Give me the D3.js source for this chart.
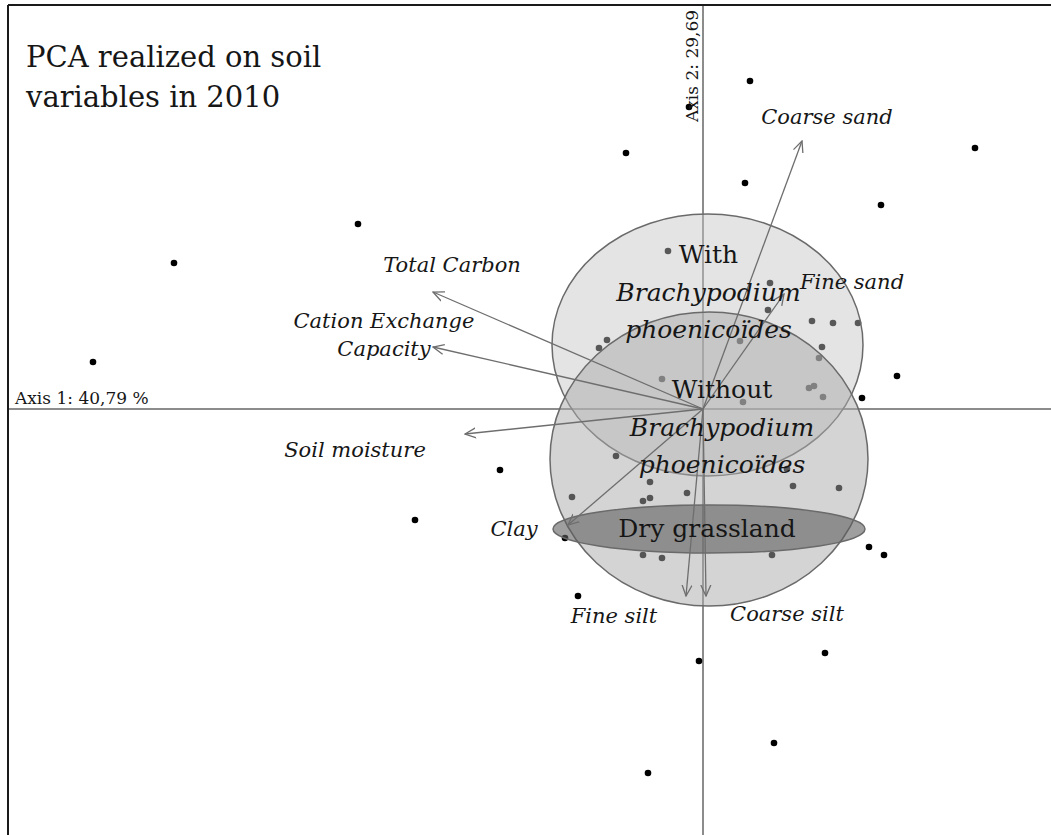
<!DOCTYPE html>
<html>
<head>
<meta charset="utf-8">
<script src="https://cdn.jsdelivr.net/npm/d3@7"></script>
<style>
  body { margin: 0; background: #fff; }
  svg text { font-family: "DejaVu Serif", serif; fill: #161616; }
</style>
</head>
<body>
<div id="chart"></div>
<script>
// Site scores on axis 1 / axis 2
var sitePoints = [
  [0.47, 3.28], [-0.77, 2.56], [0.42, 2.26], [2.72, 2.61], [1.78, 2.04],
  [-3.45, 1.85], [-5.29, 1.46], [-6.10, 0.47], [-0.14, 3.02], [1.94, 0.33],
  [1.59, 0.11], [-2.03, -0.61], [-2.88, -1.11], [-1.25, -1.87], [-0.04, -2.52],
  [1.22, -2.44], [0.71, -3.34], [-0.55, -3.64], [1.66, -1.38], [1.81, -1.46],
  [-0.35, 1.58], [0.67, 1.26], [0.65, 0.99], [1.09, 0.88], [1.30, 0.86],
  [1.55, 0.86], [1.19, 0.62], [1.16, 0.51], [-0.96, 0.69], [-1.04, 0.61],
  [-0.41, 0.30], [1.06, 0.21], [1.11, 0.23], [1.20, 0.12], [0.40, 0.07],
  [0.37, 0.68], [-0.87, -0.47], [-0.53, -0.73], [-0.16, -0.84], [-1.31, -0.88],
  [-0.60, -0.92], [-0.53, -0.89], [0.90, -0.77], [1.36, -0.79], [0.84, -0.60],
  [-1.38, -1.29], [-0.60, -1.46], [-0.41, -1.49], [0.69, -1.46]
];

// Soil variables and their loadings (arrow tips)
var variableNames = [
  ['Coarse sand'], ['Fine sand'], ['Total Carbon'], ['Cation Exchange', 'Capacity'],
  ['Soil moisture'], ['Clay'], ['Fine silt'], ['Coarse silt']
];
var loadingX = [0.99, 0.81, -2.70, -2.70, -2.38, -1.35, -0.17, 0.03];
var loadingY = [2.68, 1.15, 1.17, 0.62, -0.25, -1.16, -1.87, -1.87];

// Habitat groups drawn as ellipses
var groupNames = [
  ['With', 'Brachypodium', 'phoenicoïdes'],
  ['Without', 'Brachypodium', 'phoenicoïdes'],
  ['Dry grassland']
];
var groupCenterX = [0.045, 0.06, 0.06];
var groupCenterY = [0.64, -0.50, -1.20];
var groupRadiusX = [1.555, 1.59, 1.56];
var groupRadiusY = [1.31, 1.47, 0.24];

// the axis 2 label runs into the top edge in the original, only this part shows
var axisLabels = ['Axis 1: 40,79 %', 'Axis 2: 29,69'];
var titleLines = ['PCA realized on soil', 'variables in 2010'];

// label offsets (px) from the arrow tip: [dx, dy]
var variableLabelOffset = [[25, -17], [68, -5], [19, -20], [-49, -19], [-110, 23], [-54, 11], [-72, 27], [81, 25]];
// label offsets (px) from the ellipse centre
var groupLabelOffset = [[1, -82], [13, -61], [-2, 8]];
var groupFill = [['#c4c4c4', 0.45], ['#a9a9a9', 0.5], ['#5f5f5f', 0.6]];

function createChart() {
  var canvasWidth = 1051;
  var canvasHeight = 835;

  var svg = d3.select('#chart')
    .append('svg')
    .attr('width', canvasWidth)
    .attr('height', canvasHeight);

  var x = d3.scaleLinear().domain([-6.95, 3.48]).range([8, 1051]);
  var y = d3.scaleLinear().domain([4.04, -4.26]).range([5, 835]);

  svg.append('clipPath')
    .attr('id', 'plot-clip')
    .append('rect')
    .attr('x', 8).attr('y', 5)
    .attr('width', canvasWidth - 8).attr('height', canvasHeight - 5);

  var marker = svg.append('defs')
    .append('marker')
    .attr('id', 'arrow')
    .attr('viewBox', '0 0 12 12')
    .attr('refX', 11)
    .attr('refY', 6)
    .attr('markerWidth', 12)
    .attr('markerHeight', 12)
    .attr('markerUnits', 'userSpaceOnUse')
    .attr('orient', 'auto');
  marker.append('path')
    .attr('d', 'M0,1 L11,6 L0,11')
    .attr('fill', 'none')
    .attr('stroke', '#6e6e6e')
    .attr('stroke-width', 1.3);

  return [svg, x, y];
}

function renderBiplot(svg, x, y) {
  var plot = svg.append('g').attr('clip-path', 'url(#plot-clip)');

  // Axis lines through the origin
  plot.append('line')
    .attr('x1', x.range()[0]).attr('x2', x.range()[1])
    .attr('y1', y(0)).attr('y2', y(0))
    .style('stroke', '#8c8c8c').style('stroke-width', 2);
  plot.append('line')
    .attr('x1', x(0)).attr('x2', x(0))
    .attr('y1', y.range()[0]).attr('y2', y.range()[1])
    .style('stroke', '#8c8c8c').style('stroke-width', 2);

  // Sites
  plot.selectAll('circle.site')
    .data(sitePoints)
    .enter()
    .append('circle')
    .attr('class', 'site')
    .attr('cx', d => x(d[0]))
    .attr('cy', d => y(d[1]))
    .attr('r', 3.3)
    .style('fill', '#000');

  // Group ellipses, drawn over the sites so the inner points look greyed
  plot.selectAll('ellipse.group')
    .data(groupNames)
    .enter()
    .append('ellipse')
    .attr('class', 'group')
    .attr('cx', (d, i) => x(groupCenterX[i]))
    .attr('cy', (d, i) => y(groupCenterY[i]))
    .attr('rx', (d, i) => x(groupRadiusX[i]) - x(0))
    .attr('ry', (d, i) => y(0) - y(groupRadiusY[i]))
    .style('fill', (d, i) => groupFill[i][0])
    .style('fill-opacity', (d, i) => groupFill[i][1])
    .style('stroke', '#6a6a6a')
    .style('stroke-width', 1.5);

  // Variable arrows
  plot.selectAll('line.loading')
    .data(variableNames)
    .enter()
    .append('line')
    .attr('class', 'loading')
    .attr('x1', x(0)).attr('y1', y(0))
    .attr('x2', (d, i) => x(loadingX[i]))
    .attr('y2', (d, i) => y(loadingY[i]))
    .attr('marker-end', 'url(#arrow)')
    .style('stroke', '#6e6e6e')
    .style('stroke-width', 1.3);

  // Variable labels
  variableNames.forEach((lines, i) => {
    var t = plot.append('text')
      .attr('x', x(loadingX[i]) + variableLabelOffset[i][0])
      .attr('y', y(loadingY[i]) + variableLabelOffset[i][1])
      .attr('text-anchor', 'middle')
      .style('font-size', '21px')
      .style('font-style', 'italic');
    lines.forEach((line, j) => {
      t.append('tspan')
        .attr('x', x(loadingX[i]) + variableLabelOffset[i][0])
        .attr('dy', j === 0 ? 0 : 28)
        .text(line);
    });
  });

  // Group labels
  groupNames.forEach((lines, i) => {
    var cx = x(groupCenterX[i]) + groupLabelOffset[i][0];
    var t = plot.append('text')
      .attr('x', cx)
      .attr('y', y(groupCenterY[i]) + groupLabelOffset[i][1])
      .attr('text-anchor', 'middle')
      .style('font-size', '25px');
    lines.forEach((line, j) => {
      t.append('tspan')
        .attr('x', cx)
        .attr('dy', j === 0 ? 0 : 37.5)
        .style('font-style', j === 0 ? 'normal' : 'italic')
        .text(line);
    });
  });

  // Axis labels
  plot.append('text')
    .attr('x', 15)
    .attr('y', y(0) - 5)
    .style('font-size', '17px')
    .text(axisLabels[0]);
  plot.append('text')
    .attr('transform', 'translate(' + (x(0) - 5) + ',122) rotate(-90)')
    .style('font-size', '17px')
    .text(axisLabels[1]);

  // Title
  var title = plot.append('text')
    .attr('x', 26)
    .attr('y', 67)
    .style('font-size', '29px');
  titleLines.forEach((line, j) => {
    title.append('tspan')
      .attr('x', 26)
      .attr('dy', j === 0 ? 0 : 40)
      .text(line);
  });

  // Frame: top and left edges only
  svg.append('line')
    .attr('x1', 8).attr('x2', 1051).attr('y1', 5).attr('y2', 5)
    .style('stroke', '#1a1a1a').style('stroke-width', 2);
  svg.append('line')
    .attr('x1', 8).attr('x2', 8).attr('y1', 5).attr('y2', 835)
    .style('stroke', '#1a1a1a').style('stroke-width', 2);
}

function init() {
  var chart = createChart();
  renderBiplot(chart[0], chart[1], chart[2]);
}

window.onload = init;
</script>
</body>
</html>
